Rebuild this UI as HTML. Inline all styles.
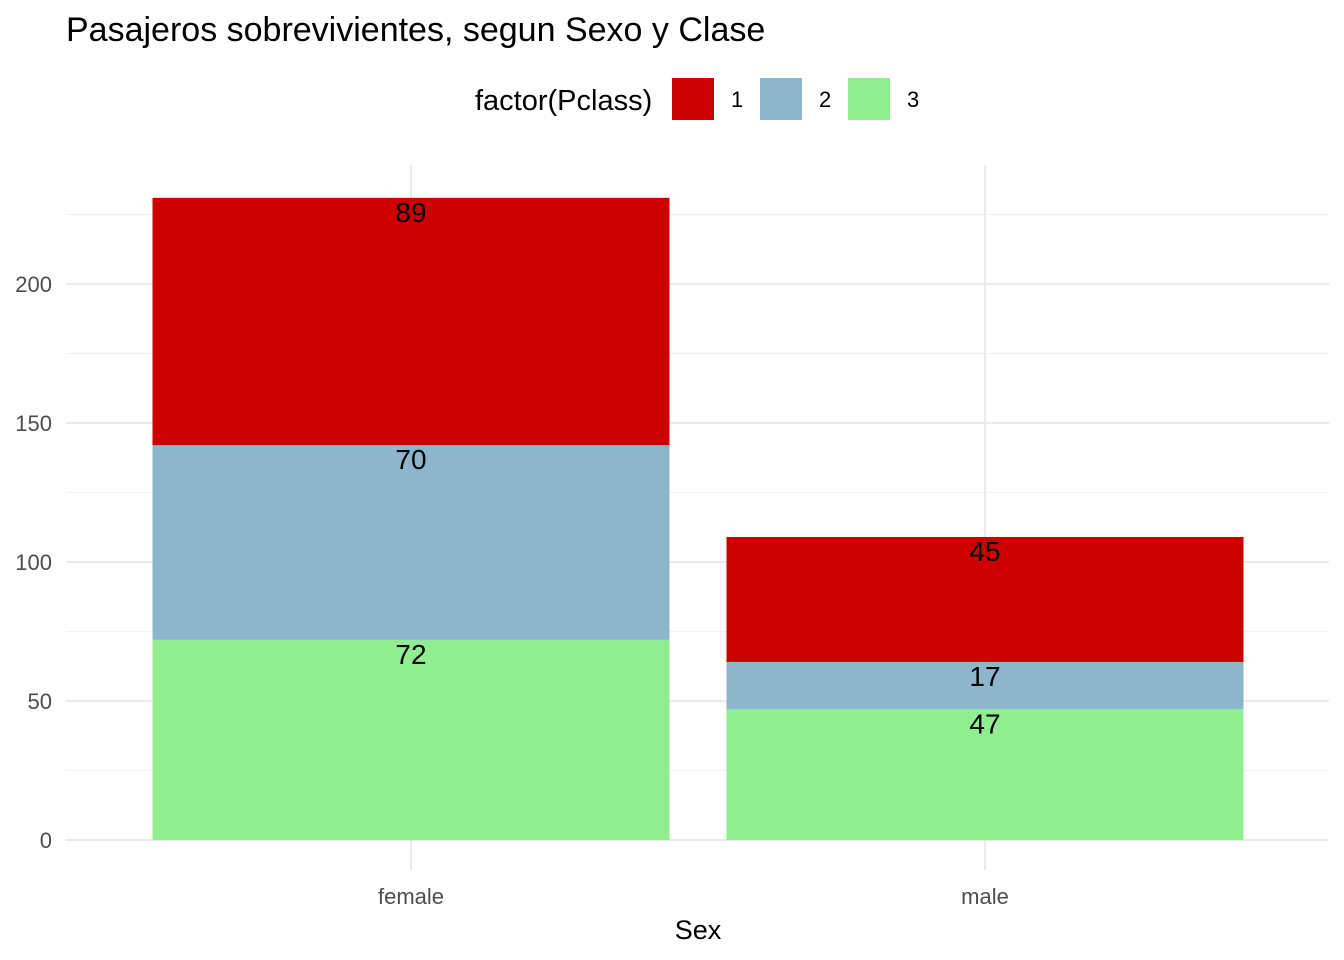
<!DOCTYPE html>
<html><head><meta charset="utf-8"><style>
body{margin:0;background:#fff;}
svg{display:block;font-family:"Liberation Sans",Arial,sans-serif;}
</style></head><body>
<svg id="chart" width="1344" height="960">
<text x="66" y="41" font-size="34" fill="#000">Pasajeros sobrevivientes, segun Sexo y Clase</text>
<g>
<text x="475" y="110" font-size="29" fill="#000">factor(Pclass)</text>
<rect x="672" y="78" width="42" height="42" fill="#CD0000"/>
<text x="731" y="107" font-size="22">1</text>
<rect x="760" y="78" width="42" height="42" fill="#8DB6CD"/>
<text x="819" y="107" font-size="22">2</text>
<rect x="848" y="78" width="42" height="42" fill="#90EE90"/>
<text x="907" y="107" font-size="22">3</text>
</g>
<g id="grid"></g>
<g id="bars"></g>
<g id="labels"></g>
<text x="698" y="939" font-size="27" text-anchor="middle" fill="#000">Sex</text>
</svg>
<script>
const categories = ["female","male"];
const class1 = [89,45];
const class2 = [70,17];
const class3 = [72,47];
const yTicks = [0,50,100,150,200];
const yMinor = [25,75,125,175,225];
const colors = {c1:"#CD0000",c2:"#8DB6CD",c3:"#90EE90"};
const NS="http://www.w3.org/2000/svg";
const y = v => 840 - v*2.78;
const x = i => 411 + i*574;
const bw = 517;
function mk(tag, attrs, parent){const e=document.createElementNS(NS,tag);for(const k in attrs)e.setAttribute(k,attrs[k]);parent.appendChild(e);return e;}
const grid=document.getElementById('grid'), bars=document.getElementById('bars'), labels=document.getElementById('labels');
yMinor.forEach(v=>{const l=mk('line',{x1:66,x2:1329,y1:y(v),y2:y(v),stroke:'#f2f2f2','stroke-width':1.2},grid);

});
yTicks.forEach(v=>{const l=mk('line',{x1:66,x2:1329,y1:y(v),y2:y(v),stroke:'#ebebeb','stroke-width':2},grid);


const t=mk('text',{x:52,y:y(v)+8,'font-size':22,'text-anchor':'end',fill:'#4d4d4d'},grid);t.textContent=v;

});
categories.forEach((c,i)=>{const l=mk('line',{x1:x(i),x2:x(i),y1:165,y2:870,stroke:'#ebebeb','stroke-width':2},grid);


const t=mk('text',{x:x(i),y:904,'font-size':22,'text-anchor':'middle',fill:'#4d4d4d'},grid);t.textContent=c;


const segs=[[class3[i],colors.c3,'3'],[class2[i],colors.c2,'2'],[class1[i],colors.c1,'1']];
let base=0;
segs.forEach(s=>{const top=base+s[0];
const r=mk('rect',{x:x(i)-bw/2,y:y(top),width:bw,height:y(base)-y(top),fill:s[1]},bars);


const tl=mk('text',{x:x(i),y:y(top)+24,'font-size':28,'text-anchor':'middle',fill:'#000'},labels);tl.textContent=s[0];


base=top;});
});
</script>
</body></html>
